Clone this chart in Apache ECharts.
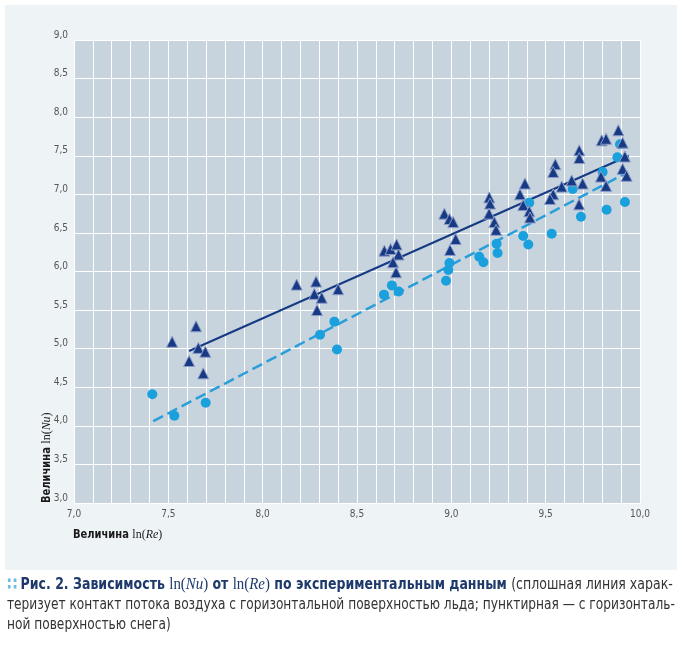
<!DOCTYPE html>
<html><head><meta charset="utf-8">
<script src="https://cdn.jsdelivr.net/npm/echarts@6/dist/echarts.min.js"></script>
<style>html,body{margin:0;padding:0;background:#fff}#c{width:682px;height:650px}</style>
</head><body><div id="c"></div>
<script>
// ln(Re) / ln(Nu) — ice surface (triangles)
const iceX = [7.52,7.647,7.659,7.696,7.61,7.685,
  8.18,8.283,8.274,8.313,8.40,8.288,
  8.645,8.678,8.71,8.72,8.691,8.707,
  8.963,8.99,9.01,9.023,8.993,
  9.201,9.205,9.20,9.228,9.237,
  9.364,9.39,9.381,9.413,9.417,
  9.551,9.54,9.54,9.523,9.585,9.638,
  9.678,9.678,9.696,9.677,
  9.797,9.82,9.885,9.908,9.92,9.908,9.929,9.82,9.793];
const iceY = [5.09,5.29,5.01,4.96,4.84,4.68,
  5.83,5.87,5.71,5.66,5.77,5.50,
  6.27,6.29,6.35,6.22,6.12,5.99,
  6.75,6.68,6.64,6.42,6.28,
  6.96,6.88,6.75,6.64,6.54,
  7.00,7.14,6.86,6.78,6.70,
  7.39,7.29,7.00,6.94,7.10,7.18,
  7.57,7.47,7.14,6.87,
  7.70,7.72,7.83,7.67,7.49,7.33,7.24,7.11,7.23];
// snow surface (circles)
const snowX = [7.415,7.698,7.532,
  8.38,8.304,8.394,8.643,8.685,8.721,
  8.99,8.984,8.972,9.148,9.17,9.24,9.245,
  9.413,9.381,9.408,9.532,9.643,9.687,9.802,9.823,9.894,9.88,9.92];
const snowY = [4.41,4.30,4.13,
  5.35,5.18,4.99,5.70,5.82,5.74,
  6.11,6.02,5.88,6.19,6.12,6.36,6.24,
  6.89,6.46,6.35,6.49,7.07,6.71,7.29,6.80,7.65,7.48,6.90];
// fitted lines (end points)
const iceLineX = [7.61, 9.94];
const iceLineY = [4.97, 7.50];
const snowLineX = [7.42, 9.93];
const snowLineY = [4.06, 7.28];
const xTicks = {min: 7, max: 10, step: 0.5};
const yTicks = {min: 3, max: 9, step: 0.5};

const zip = (a, b) => a.map((v, i) => [v, b[i]]);
const COND = '"Liberation Sans Narrow","DejaVu Sans Condensed","Roboto Condensed",sans-serif';
const SERIF = '"Liberation Serif","DejaVu Serif",serif';
const fmt = v => v.toFixed(1).replace('.', ',');

const chart = echarts.init(document.getElementById('c'), null, {renderer: 'canvas'});
chart.setOption({
  backgroundColor: '#ffffff',
  animation: false,
  grid: {left: 74, right: 42, top: 40, bottom: 147, show: true, backgroundColor: '#c7d4dd', borderWidth: 0},
  graphic: [
    {type: 'rect', z: -10, shape: {x: 5, y: 5, width: 672, height: 565}, style: {fill: '#eef3f6'}},
    {type: 'text', x: 47, y: 503, rotation: Math.PI / 2, scaleX: 0.92, style: {
      text: '{b|Величина }{s|ln(}{i|Nu}{s|)}', align: 'left', verticalAlign: 'middle',
      rich: {
        b: {font: 'bold 12px ' + COND, fill: '#1a1a1a'},
        s: {font: '13px ' + SERIF, fill: '#1a1a1a'},
        i: {font: 'italic 13px ' + SERIF, fill: '#1a1a1a'}
      }}},
    {type: 'text', x: 73, y: 535, scaleX: 0.92, style: {
      text: '{b|Величина }{s|ln(}{i|Re}{s|)}', align: 'left', verticalAlign: 'middle',
      rich: {
        b: {font: 'bold 12px ' + COND, fill: '#1a1a1a'},
        s: {font: '13px ' + SERIF, fill: '#1a1a1a'},
        i: {font: 'italic 13px ' + SERIF, fill: '#1a1a1a'}
      }}},
    {type: 'text', x: 7, y: 585, scaleX: 0.93, style: {
      text: '{d|∷} {b|Рис. 2. Зависимость }{s|ln(}{i|Nu}{s|)}{b| от }{s|ln(}{i|Re}{s|)}{b| по экспериментальным данным }{r|(сплошная линия харак-}',
      align: 'left', verticalAlign: 'middle',
      rich: {
        d: {font: 'bold 18px ' + COND, fill: '#6cbde6'},
        b: {font: 'bold 15px ' + COND, fill: '#1d3a6b'},
        s: {font: '16px ' + SERIF, fill: '#1d3a6b'},
        i: {font: 'italic 16px ' + SERIF, fill: '#1d3a6b'},
        r: {font: '15px ' + COND, fill: '#333333'}
      }}},
    {type: 'text', x: 7, y: 605, scaleX: 0.904, style: {
      text: 'теризует контакт потока воздуха с горизонтальной поверхностью льда; пунктирная — с горизонталь-',
      align: 'left', verticalAlign: 'middle', font: '15px ' + COND, fill: '#333333'}},
    {type: 'text', x: 7, y: 625, scaleX: 0.904, style: {
      text: 'ной поверхностью снега)',
      align: 'left', verticalAlign: 'middle', font: '15px ' + COND, fill: '#333333'}}
  ],
  xAxis: {
    type: 'value', min: xTicks.min, max: xTicks.max, interval: xTicks.step,
    axisLine: {show: false}, axisTick: {show: false},
    axisLabel: {formatter: fmt, color: '#555', fontFamily: COND, fontSize: 10, margin: 6},
    splitLine: {show: true, lineStyle: {color: '#ffffff', width: 1}},
    minorTick: {show: false, splitNumber: 5},
    minorSplitLine: {show: true, lineStyle: {color: '#ffffff', width: 1}}
  },
  yAxis: {
    type: 'value', min: yTicks.min, max: yTicks.max, interval: yTicks.step,
    axisLine: {show: false}, axisTick: {show: false},
    axisLabel: {formatter: fmt, color: '#555', fontFamily: COND, fontSize: 10, margin: 6, verticalAlign: 'bottom'},
    splitLine: {show: true, lineStyle: {color: '#ffffff', width: 1}}
  },
  series: [
    {type: 'line', data: zip(snowLineX, snowLineY), showSymbol: false, symbol: 'none', z: 2,
      lineStyle: {color: '#2a9ed8', width: 2.5, type: [11, 5]}},
    {type: 'line', data: zip(iceLineX, iceLineY), showSymbol: false, symbol: 'none', z: 2,
      lineStyle: {color: '#173a85', width: 2}},
    {type: 'scatter', data: zip(snowX, snowY), symbol: 'circle', symbolSize: 10, z: 3,
      itemStyle: {color: '#1aa0dd', opacity: 1}},
    {type: 'scatter', data: zip(iceX, iceY), symbol: 'triangle', symbolSize: 11, z: 4,
      itemStyle: {color: '#173a85', borderColor: '#8d9cc8', borderWidth: 1, opacity: 1}}
  ]
});
</script></body></html>
